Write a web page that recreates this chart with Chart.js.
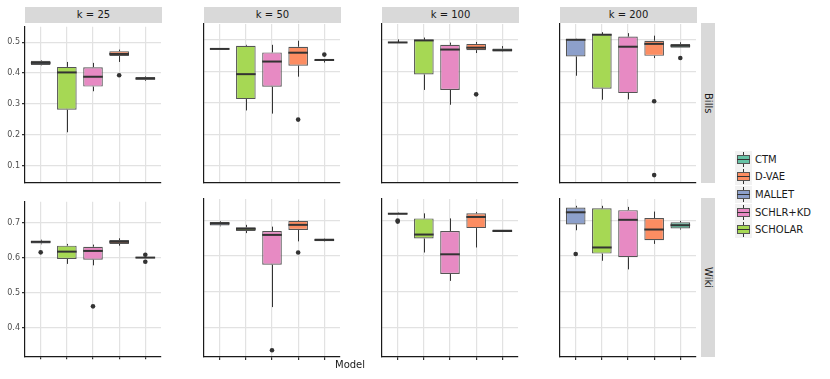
<!DOCTYPE html>
<html>
<head>
<meta charset="utf-8">
<script src="https://cdn.jsdelivr.net/npm/chart.js@4"></script>
<style>
body{margin:0;width:830px;height:379px;background:#fff;position:relative;overflow:hidden;font-family:"DejaVu Sans",sans-serif;color:#1a1a1a}
canvas{position:absolute}
.strip{position:absolute;background:#d9d9d9;font-size:10px;text-align:center;line-height:16px;height:16px}
.rstrip{position:absolute;background:#d9d9d9;font-size:10px;width:14px;display:flex;align-items:center;justify-content:center}
.rstrip span{writing-mode:vertical-rl}
.xtitle{position:absolute;left:335px;top:359px;font-size:10px}
.leg{position:absolute;left:735px;font-size:10px;height:17px;line-height:17px}
.key{position:absolute;left:0;top:0;width:17px;height:17px;background:#f2f2f2}
.key .bx{position:absolute;left:2px;top:4px;width:11px;height:7px;border:1px solid #555}
.key .md{position:absolute;left:2px;top:8px;width:13px;height:1px;background:#333}
.key .wk{position:absolute;left:8px;width:1px;height:3px;background:#333}
.leg .txt{position:absolute;left:20px;top:0;white-space:nowrap}
</style>
</head>
<body>
<script>
/* ==========================================
   DATA
========================================== */

const models = ["MALLET","SCHOLAR","SCHLR+KD","D-VAE","CTM"];
const modelColors = ["#8DA0CB","#A6D854","#E78AC3","#FC8D62","#66C2A5"];
const kLabels = ["k = 25","k = 50","k = 100","k = 200"];
const rowLabels = ["Bills","Wiki"];
const billsTicks = [0.1,0.2,0.3,0.4,0.5];
const wikiTicks = [0.4,0.5,0.6,0.7];

// one list per k, one value per model (order of models)
const billsLow  = [[0.425,0.208,0.341,0.436,0.375],[0.469,0.276,0.266,0.383,0.428],[0.490,0.341,0.294,0.458,0.462],[0.386,0.310,0.311,0.442,0.475]];
const billsQ1   = [[0.4265,0.281,0.356,0.455,0.378],[0.469,0.312,0.351,0.418,0.433],[0.490,0.390,0.341,0.467,0.463],[0.447,0.345,0.331,0.449,0.475]];
const billsMed  = [[0.433,0.402,0.388,0.462,0.382],[0.471,0.391,0.431,0.459,0.436],[0.4915,0.498,0.469,0.475,0.467],[0.500,0.516,0.478,0.487,0.481]];
const billsQ3   = [[0.440,0.420,0.419,0.471,0.387],[0.472,0.481,0.460,0.478,0.437],[0.492,0.500,0.484,0.487,0.472],[0.502,0.518,0.510,0.497,0.487]];
const billsHigh = [[0.442,0.436,0.433,0.476,0.389],[0.472,0.484,0.484,0.497,0.438],[0.501,0.507,0.491,0.493,0.480],[0.503,0.524,0.521,0.513,0.492]];
// [k index, model index, value]
const billsOutliers = [[0,3,0.393],[1,3,0.247],[1,4,0.453],[2,3,0.327],[3,3,0.305],[3,3,0.071],[3,4,0.442]];

const wikiLow  = [[0.638,0.582,0.578,0.634,0.598],[0.683,0.664,0.458,0.641,0.640],[0.716,0.610,0.531,0.624,0.667],[0.672,0.587,0.563,0.634,0.674]];
const wikiQ1   = [[0.640,0.596,0.594,0.639,0.598],[0.685,0.670,0.576,0.673,0.641],[0.716,0.649,0.550,0.678,0.667],[0.688,0.607,0.597,0.644,0.677]];
const wikiMed  = [[0.645,0.617,0.619,0.645,0.600],[0.691,0.676,0.659,0.687,0.645],[0.718,0.660,0.605,0.709,0.670],[0.722,0.624,0.701,0.674,0.686]];
const wikiQ3   = [[0.648,0.634,0.631,0.650,0.602],[0.695,0.680,0.670,0.698,0.649],[0.720,0.705,0.670,0.719,0.674],[0.735,0.733,0.728,0.706,0.694]];
const wikiHigh = [[0.651,0.639,0.637,0.655,0.602],[0.697,0.687,0.682,0.700,0.650],[0.721,0.719,0.705,0.723,0.674],[0.740,0.740,0.737,0.724,0.698]];
const wikiOutliers = [[0,0,0.615],[0,2,0.461],[0,4,0.608],[0,4,0.588],[1,2,0.338],[1,3,0.610],[2,0,0.696],[2,0,0.699],[3,0,0.606]];

/* ==========================================
   LAYOUT
========================================== */

const colLeft = [25,204,382,560];
const plotW = 137;
const rowTop = [23,198];
const plotH = [160,159];
const yRange = [[0.046,0.55],[0.319,0.759]];
const FONT = "'DejaVu Sans', sans-serif";

const rows = [
    {low:billsLow,q1:billsQ1,med:billsMed,q3:billsQ3,high:billsHigh,out:billsOutliers,ticks:billsTicks},
    {low:wikiLow,q1:wikiQ1,med:wikiMed,q3:wikiQ3,high:wikiHigh,out:wikiOutliers,ticks:wikiTicks}
];

function makeBoxPlugin(low,med,high){

    return {
        id:"boxWhiskers",
        beforeDatasetsDraw(chart){
            const ctx = chart.ctx, xs = chart.scales.x, ys = chart.scales.y;
            ctx.save();
            ctx.strokeStyle = "#333";
            ctx.lineWidth = 1;
            models.forEach((m,i)=>{
                const q = chart.data.datasets[0].data[i].y;
                const x = Math.round(xs.getPixelForValue(i+1))+0.5;
                ctx.beginPath();
                ctx.moveTo(x,ys.getPixelForValue(high[i]));
                ctx.lineTo(x,ys.getPixelForValue(q[1]));
                ctx.moveTo(x,ys.getPixelForValue(q[0]));
                ctx.lineTo(x,ys.getPixelForValue(low[i]));
                ctx.stroke();
            });
            ctx.restore();
        },
        afterDatasetsDraw(chart){
            const ctx = chart.ctx, xs = chart.scales.x, ys = chart.scales.y;
            const meta = chart.getDatasetMeta(0);
            ctx.save();
            ctx.strokeStyle = "#333";
            ctx.lineWidth = 2;
            models.forEach((m,i)=>{
                const x = xs.getPixelForValue(i+1);
                const w = meta.data[i].width/2;
                const y = ys.getPixelForValue(med[i]);
                ctx.beginPath();
                ctx.moveTo(x-w,y);
                ctx.lineTo(x+w,y);
                ctx.stroke();
            });
            // outliers on top
            ctx.restore();
        }
    };

}

function makePanel(r,c){

    const row = rows[r];
    const canvas = document.createElement("canvas");
    const cw = plotW+28, ch = plotH[r]+9;
    canvas.width = cw; canvas.height = ch;
    canvas.style.left = (colLeft[c]-25)+"px";
    canvas.style.top = (rowTop[r]-3)+"px";
    canvas.style.width = cw+"px";
    canvas.style.height = ch+"px";
    document.body.appendChild(canvas);

    const boxData = models.map((m,i)=>({x:i+1,y:[row.q1[c][i],row.q3[c][i]]}));
    const outData = row.out.filter(o=>o[0]===c).map(o=>({x:o[1]+1,y:o[2]}));

    new Chart(canvas.getContext("2d"),{
        type:"bar",
        data:{
            datasets:[
                {
                    data:boxData,
                    backgroundColor:modelColors,
                    borderColor:"#555",
                    borderWidth:1.2,
                    borderSkipped:false,
                    barPercentage:0.75,
                    categoryPercentage:1
                },
                {
                    type:"scatter",
                    data:outData,
                    pointRadius:2.3,
                    backgroundColor:"#333",
                    borderWidth:0
                }
            ]
        },
        options:{
            responsive:false,
            animation:false,
            events:[],
            layout:{padding:{top:3,right:3,left:0,bottom:0}},
            plugins:{legend:{display:false},tooltip:{enabled:false}},
            scales:{
                x:{
                    type:"linear",
                    min:0.4,
                    max:5.6,
                    offset:false,
                    afterBuildTicks:s=>{ s.ticks = models.map((m,i)=>({value:i+1})); },
                    afterFit:s=>{ s.height = 6; },
                    ticks:{display:false},
                    grid:{offset:false,color:"#e2e2e2",lineWidth:1.2,drawTicks:r===1,tickLength:3,tickColor:"#333"},
                    border:{display:true,color:"#1a1a1a",width:1.2}
                },
                y:{
                    min:yRange[r][0],
                    max:yRange[r][1],
                    afterBuildTicks:s=>{ s.ticks = row.ticks.map(v=>({value:v})); },
                    afterFit:s=>{ s.width = 25; },
                    ticks:{
                        display:c===0,
                        font:{size:8,family:FONT},
                        color:"#4d4d4d",
                        padding:2,
                        callback:v=>Number(v).toFixed(1)
                    },
                    grid:{color:"#e2e2e2",lineWidth:1.2,drawTicks:c===0,tickLength:3,tickColor:"#333"},
                    border:{display:true,color:"#1a1a1a",width:1.2}
                }
            }
        },
        plugins:[makeBoxPlugin(row.low[c],row.med[c],row.high[c])]
    });

}

/* ==========================================
   BUILD
========================================== */

kLabels.forEach((lab,c)=>{
    const s = document.createElement("div");
    s.className = "strip";
    s.style.left = colLeft[c]+"px";
    s.style.top = "7px";
    s.style.width = plotW+"px";
    s.textContent = lab;
    document.body.appendChild(s);
});

rowLabels.forEach((lab,r)=>{
    const s = document.createElement("div");
    s.className = "rstrip";
    s.style.left = "701px";
    s.style.top = rowTop[r]+"px";
    s.style.height = plotH[r]+"px";
    const sp = document.createElement("span");
    sp.textContent = lab;
    s.appendChild(sp);
    document.body.appendChild(s);
});

for(let r=0;r<2;r++){
    for(let c=0;c<4;c++){
        makePanel(r,c);
    }
}

const xt = document.createElement("div");
xt.className = "xtitle";
xt.textContent = "Model";
document.body.appendChild(xt);

// legend, alphabetical
const legendOrder = models.map((m,i)=>i).sort((a,b)=>models[a]<models[b]?-1:1);
legendOrder.forEach((mi,j)=>{
    const d = document.createElement("div");
    d.className = "leg";
    d.style.top = (150.5+j*17.7)+"px";
    d.innerHTML = '<div class="key"><div class="wk" style="top:1px"></div><div class="wk" style="top:13px"></div>'+
        '<div class="bx" style="background:'+modelColors[mi]+'"></div><div class="md"></div></div>';
    const t = document.createElement("span");
    t.className = "txt";
    t.textContent = models[mi];
    d.appendChild(t);
    document.body.appendChild(d);
});
</script>
</body>
</html>
